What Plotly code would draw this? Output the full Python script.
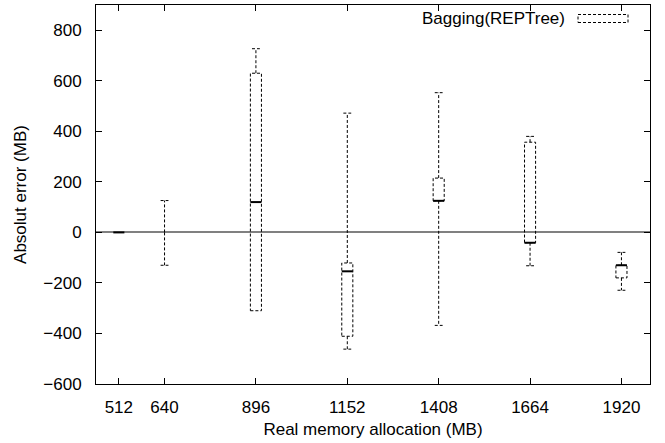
import plotly.graph_objects as go

# Data
categories = [512, 640, 896, 1152, 1408, 1664, 1920]
whisker_min = [0, -130, -310, -462, -368, -132, -229]
box_low = [0, None, -310, -411, 125, -41, -180]
median = [0, None, 120, -154, 125, -41, -130]
box_high = [0, None, 630, -121, 215, 357, -130]
whisker_max = [0, 126, 727, 472, 553, 380, -79]
tick_labels = ["512", "640", "896", "1152", "1408", "1664", "1920"]
y_ticks = [-600, -400, -200, 0, 200, 400, 600, 800]

BOX_HW = 15.5   # half box width in x units
CAP_HW = 11.0   # half whisker-cap width in x units
FONT = "Liberation Sans, Arial, Helvetica, sans-serif"

bx, by = [], []
wx, wy = [], []
mx, my = [], []
for c, lo, q1, med, q3, hi in zip(categories, whisker_min, box_low, median, box_high, whisker_max):
    if q1 is not None and q3 is not None and q3 != q1:
        bx += [c - BOX_HW, c + BOX_HW, c + BOX_HW, c - BOX_HW, c - BOX_HW, None]
        by += [q1, q1, q3, q3, q1, None]
    top_start = q3 if q3 is not None else 0
    bot_start = q1 if q1 is not None else 0
    if hi != top_start:
        wx += [c, c, None, c - CAP_HW, c + CAP_HW, None]
        wy += [top_start, hi, None, hi, hi, None]
    if lo != bot_start:
        wx += [c, c, None, c - CAP_HW, c + CAP_HW, None]
        wy += [bot_start, lo, None, lo, lo, None]
    if med is not None:
        mx += [c - BOX_HW, c + BOX_HW, None]
        my += [med, med, None]

fig = go.Figure()
fig.add_trace(go.Scatter(x=wx, y=wy, mode="lines", showlegend=False, hoverinfo="skip",
                         line=dict(color="black", width=1, dash="3px,2px")))
fig.add_trace(go.Scatter(x=bx, y=by, mode="lines", showlegend=False, hoverinfo="skip",
                         line=dict(color="black", width=1, dash="3px,2px")))
fig.add_trace(go.Scatter(x=mx, y=my, mode="lines", showlegend=False, hoverinfo="skip",
                         line=dict(color="black", width=2)))

# Legend (gnuplot style): text + dashed sample box
fig.add_annotation(xref="paper", yref="paper", x=(567 - 96) / 554, y=1 - (18 - 5) / 379,
                   xanchor="right", yanchor="middle", showarrow=False,
                   text="Bagging(REPTree)", font=dict(family=FONT, size=17, color="black"))
fig.add_shape(type="rect", xref="paper", yref="paper",
              x0=(578 - 96) / 554, x1=(628 - 96) / 554,
              y0=1 - (22.5 - 5) / 379, y1=1 - (14.5 - 5) / 379,
              line=dict(color="black", width=1, dash="3px,2px"))

fig.update_layout(
    width=665, height=443,
    margin=dict(l=96, r=15, t=5, b=59),
    paper_bgcolor="white", plot_bgcolor="white",
    font=dict(family=FONT, size=17, color="black"),
    showlegend=False,
)
fig.update_xaxes(
    range=[448, 2000], tickmode="array", tickvals=categories, ticktext=tick_labels,
    ticks="inside", ticklen=6, tickcolor="black", showgrid=False, zeroline=False,
    showline=True, linecolor="black", linewidth=1, mirror="ticks",
    ticklabelstandoff=8, automargin=False,
    title=dict(text="Real memory allocation (MB)", standoff=6, font=dict(size=17)),
)
fig.update_yaxes(
    range=[-600, 900], tickmode="array", tickvals=y_ticks,
    ticks="inside", ticklen=6, tickcolor="black", showgrid=False,
    zeroline=True, zerolinecolor="#808080", zerolinewidth=1.5,
    showline=True, linecolor="black", linewidth=1, mirror="ticks",
    ticklabelstandoff=10, automargin=False,
    title=dict(text="Absolut error (MB)", standoff=12, font=dict(size=17)),
)

fig.write_html(
    "out.html",
    config={"displayModeBar": False},
    post_script="document.body.style.margin='0';document.body.style.overflow='hidden';",
)
